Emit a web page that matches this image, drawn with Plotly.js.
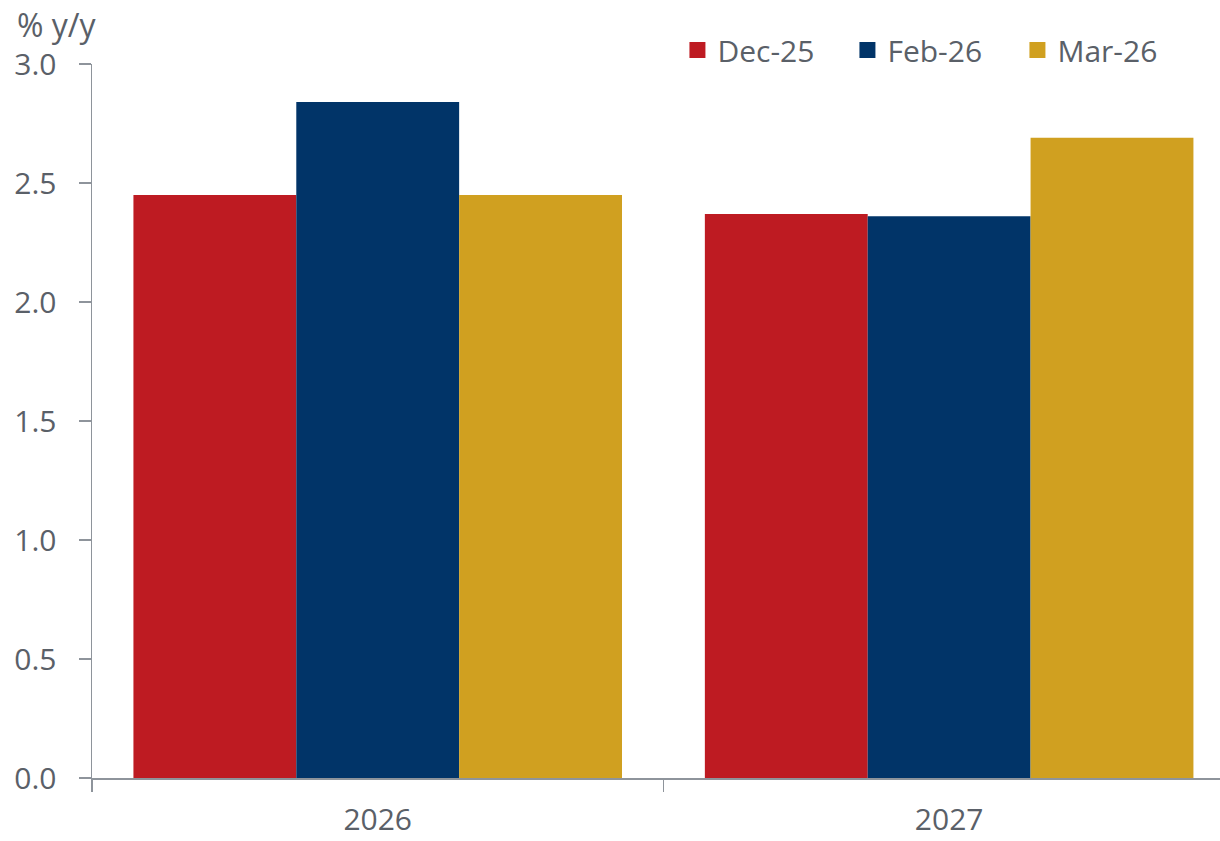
<!DOCTYPE html>
<html>
<head>
<meta charset="utf-8">
<script src="https://cdn.plot.ly/plotly-3.0.1.min.js"></script>
<style>html,body{margin:0;padding:0;background:#fff;}#chart{width:1220px;height:841px;}</style>
</head>
<body>
<div id="chart"></div>
<script>
const categories = ["2026", "2027"];
const seriesNames = ["Dec-25", "Feb-26", "Mar-26"];
const dec25 = [2.45, 2.37];
const feb26 = [2.84, 2.36];
const mar26 = [2.45, 2.69];
const yTickVals = [0, 0.5, 1, 1.5, 2, 2.5, 3];
const yTickText = ["0.0", "0.5", "1.0", "1.5", "2.0", "2.5", "3.0"];

const colors = ["#BE1B22", "#013468", "#D0A020"];
const values = [dec25, feb26, mar26];
const FONT = "'Open Sans', 'Noto Sans', sans-serif";
const FS = 30;
const textColor = "#5a6068";
const axisColor = "#8e949b";

const traces = values.map((v, i) => ({
  type: "bar",
  name: seriesNames[i],
  x: categories,
  y: v,
  legendgroup: seriesNames[i],
  showlegend: false,
  marker: {color: colors[i], line: {width: 0}},
  hoverinfo: "x+y+name"
}));
// legend entries with larger square swatches
seriesNames.forEach((n, i) => traces.push({
  type: "scatter",
  mode: "markers",
  name: n,
  legendgroup: n,
  x: [null],
  y: [null],
  marker: {symbol: "square", size: 20, color: colors[i]},
  showlegend: true,
  hoverinfo: "skip"
}));

const layout = {
  width: 1220,
  height: 841,
  margin: {l: 92, r: 0, t: 64, b: 63},
  paper_bgcolor: "#ffffff",
  plot_bgcolor: "#ffffff",
  barmode: "group",
  bargap: 0.145,
  bargroupgap: 0,
  font: {family: FONT, size: FS, color: textColor},
  showlegend: true,
  legend: {
    orientation: "h",
    x: 0.519, xanchor: "left",
    y: 1.0196, yanchor: "middle",
    font: {family: FONT, size: FS, color: textColor},
    traceorder: "normal",
    itemwidth: 30,
    itemsizing: "trace",
    entrywidth: 125,
    bgcolor: "rgba(0,0,0,0)"
  },
  xaxis: {
    type: "category",
    range: [-0.5, 1.474],
    showgrid: false,
    zeroline: false,
    showline: true,
    linecolor: axisColor,
    linewidth: 2,
    ticks: "outside",
    tickson: "boundaries",
    ticklen: 12,
    tickwidth: 1.5,
    tickcolor: axisColor,
    ticklabelstandoff: 14,
    tickfont: {family: FONT, size: FS, color: textColor},
    fixedrange: true
  },
  yaxis: {
    range: [0, 3],
    tickvals: yTickVals,
    ticktext: yTickText,
    showgrid: false,
    zeroline: false,
    showline: true,
    linecolor: axisColor,
    linewidth: 1.5,
    ticks: "outside",
    ticklen: 12,
    tickwidth: 1.5,
    tickcolor: axisColor,
    ticklabelstandoff: 16,
    tickfont: {family: FONT, size: FS, color: textColor},
    fixedrange: true
  },
  annotations: [{
    text: "% y/y",
    xref: "paper", yref: "paper",
    x: -0.0683, y: 1.0547,
    xanchor: "left", yanchor: "middle",
    showarrow: false,
    font: {family: FONT, size: 32, color: textColor}
  }]
};

Plotly.newPlot("chart", traces, layout, {displayModeBar: false, staticPlot: true});
</script>
</body>
</html>
